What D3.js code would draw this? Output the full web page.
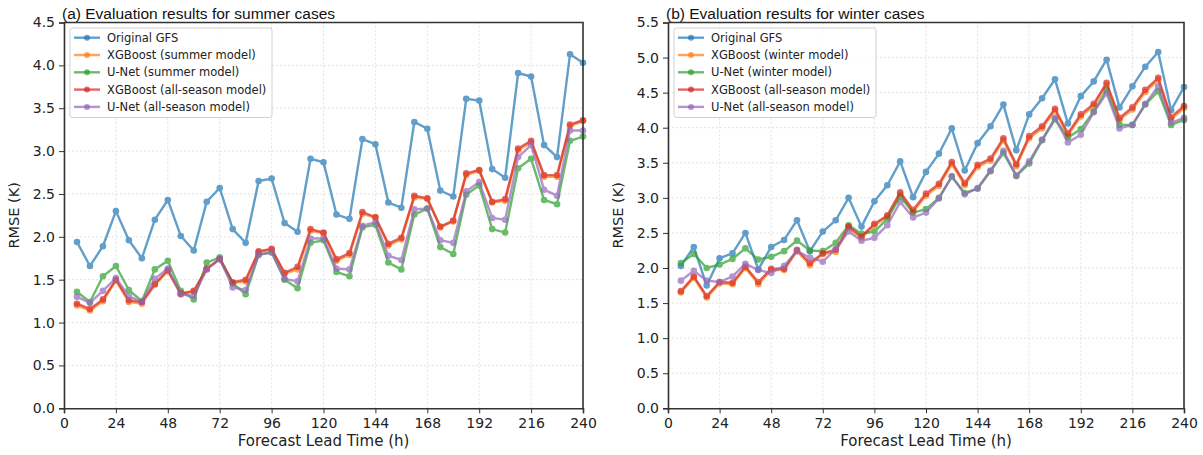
<!DOCTYPE html>
<html>
<head>
<meta charset="utf-8">
<script src="https://cdn.jsdelivr.net/npm/d3@7"></script>
<style>
  body { margin: 0; background: #fff; }
  svg text { font-family: "DejaVu Sans", sans-serif; fill: #222; }
  .title { font-family: "Liberation Sans", Arial, sans-serif; font-size: 15.5px; fill: #111; }
  .axis text { font-size: 14px; }
  .axis path, .axis line { stroke: #333; }
  .grid line { stroke: #e3e3e3; stroke-dasharray: 2,2; }
  .legend text { font-size: 11.5px; }
</style>
</head>
<body>
<div id="chart"></div>
<script>
// lead times (h)
var leadTimes = [6, 12, 18, 24, 30, 36, 42, 48, 54, 60, 66, 72, 78, 84, 90, 96, 102, 108, 114, 120,
  126, 132, 138, 144, 150, 156, 162, 168, 174, 180, 186, 192, 198, 204, 210, 216, 222, 228, 234, 240];
var xTicks = [0, 24, 48, 72, 96, 120, 144, 168, 192, 216, 240];

// (a) summer cases, RMSE (K)
var summerGFS = [1.94, 1.66, 1.89, 2.30, 1.96, 1.75, 2.20, 2.43, 2.01, 1.84, 2.41, 2.57, 2.09, 1.93, 2.65, 2.68, 2.16, 2.06, 2.91, 2.87,
  2.26, 2.21, 3.14, 3.08, 2.40, 2.34, 3.34, 3.26, 2.54, 2.47, 3.61, 3.59, 2.79, 2.69, 3.91, 3.87, 3.07, 2.93, 4.13, 4.03];
var summerXgbSeason = [1.20, 1.14, 1.25, 1.49, 1.24, 1.22, 1.44, 1.60, 1.33, 1.36, 1.62, 1.74, 1.46, 1.48, 1.82, 1.85, 1.57, 1.62, 2.07, 2.04,
  1.72, 1.79, 2.27, 2.22, 1.90, 1.97, 2.46, 2.44, 2.11, 2.18, 2.72, 2.77, 2.40, 2.42, 3.01, 3.10, 2.70, 2.70, 3.29, 3.35];
var summerUnetSeason = [1.36, 1.24, 1.54, 1.66, 1.38, 1.25, 1.62, 1.72, 1.37, 1.27, 1.70, 1.76, 1.46, 1.33, 1.79, 1.82, 1.50, 1.40, 1.93, 1.96,
  1.59, 1.54, 2.11, 2.14, 1.70, 1.62, 2.26, 2.33, 1.88, 1.80, 2.49, 2.60, 2.09, 2.05, 2.80, 2.91, 2.43, 2.38, 3.12, 3.17];
var summerXgbAll = [1.22, 1.16, 1.27, 1.50, 1.26, 1.24, 1.45, 1.61, 1.34, 1.37, 1.63, 1.74, 1.47, 1.50, 1.83, 1.86, 1.58, 1.65, 2.09, 2.05,
  1.74, 1.81, 2.29, 2.23, 1.92, 1.99, 2.48, 2.45, 2.12, 2.19, 2.74, 2.78, 2.41, 2.44, 3.03, 3.12, 2.72, 2.72, 3.31, 3.36];
var summerUnetAll = [1.30, 1.23, 1.37, 1.52, 1.31, 1.24, 1.51, 1.63, 1.33, 1.31, 1.62, 1.74, 1.41, 1.38, 1.79, 1.82, 1.51, 1.48, 1.98, 1.98,
  1.63, 1.62, 2.13, 2.17, 1.78, 1.73, 2.32, 2.33, 1.96, 1.93, 2.53, 2.64, 2.22, 2.20, 2.93, 3.07, 2.55, 2.48, 3.24, 3.24];

// (b) winter cases, RMSE (K)
var winterGFS = [2.03, 2.30, 1.75, 2.14, 2.21, 2.50, 1.98, 2.30, 2.40, 2.68, 2.24, 2.52, 2.68, 3.00, 2.59, 2.95, 3.18, 3.52, 3.01, 3.37,
  3.63, 3.99, 3.39, 3.78, 4.02, 4.33, 3.68, 4.19, 4.42, 4.69, 4.06, 4.45, 4.66, 4.97, 4.29, 4.59, 4.87, 5.08, 4.25, 4.58];
var winterXgbSeason = [1.65, 1.86, 1.58, 1.78, 1.77, 2.00, 1.77, 1.97, 1.97, 2.24, 2.04, 2.20, 2.23, 2.57, 2.43, 2.61, 2.73, 3.05, 2.80, 3.03,
  3.17, 3.48, 3.18, 3.44, 3.53, 3.82, 3.45, 3.85, 3.99, 4.24, 3.89, 4.16, 4.31, 4.61, 4.11, 4.26, 4.51, 4.68, 4.12, 4.28];
var winterUnetSeason = [2.07, 2.20, 2.00, 2.05, 2.13, 2.28, 2.12, 2.16, 2.24, 2.39, 2.25, 2.24, 2.36, 2.61, 2.49, 2.52, 2.70, 3.02, 2.79, 2.84,
  3.00, 3.30, 3.07, 3.13, 3.38, 3.64, 3.31, 3.49, 3.82, 4.12, 3.86, 3.98, 4.23, 4.54, 4.04, 4.04, 4.33, 4.52, 4.04, 4.11];
var winterXgbAll = [1.67, 1.88, 1.60, 1.80, 1.79, 2.02, 1.80, 1.99, 1.99, 2.26, 2.07, 2.21, 2.26, 2.59, 2.45, 2.63, 2.75, 3.08, 2.83, 3.06,
  3.20, 3.51, 3.21, 3.47, 3.56, 3.85, 3.48, 3.88, 4.02, 4.27, 3.92, 4.19, 4.34, 4.64, 4.14, 4.29, 4.54, 4.71, 4.15, 4.31];
var winterUnetAll = [1.82, 1.96, 1.82, 1.80, 1.88, 2.06, 1.97, 1.93, 2.03, 2.24, 2.15, 2.09, 2.27, 2.52, 2.39, 2.43, 2.61, 2.94, 2.72, 2.79,
  2.99, 3.31, 3.05, 3.14, 3.39, 3.67, 3.32, 3.52, 3.83, 4.14, 3.79, 3.90, 4.22, 4.49, 3.99, 4.04, 4.34, 4.59, 4.07, 4.14];

var summerLabels = ["Original GFS", "XGBoost (summer model)", "U-Net (summer model)", "XGBoost (all-season model)", "U-Net (all-season model)"];
var winterLabels = ["Original GFS", "XGBoost (winter model)", "U-Net (winter model)", "XGBoost (all-season model)", "U-Net (all-season model)"];
var colors = ["#1f77b4", "#ff7f0e", "#2ca02c", "#d62728", "#9467bd"];

var svg = d3.select("#chart").append("svg")
  .attr("width", 1203)
  .attr("height", 455);

function drawPanel(opts) {
  var x = d3.scaleLinear().domain([0, 240]).range([opts.left, opts.right]);
  var y = d3.scaleLinear().domain([0, opts.yMax]).range([408.3, 22.5]);
  var yTicks = d3.range(0, opts.yMax + 0.01, 0.5);

  var g = svg.append("g");

  // grid
  var grid = g.append("g").attr("class", "grid");
  grid.selectAll(".gx").data(xTicks).enter().append("line")
    .attr("x1", function(d) { return x(d); }).attr("x2", function(d) { return x(d); })
    .attr("y1", y(0)).attr("y2", y(opts.yMax));
  grid.selectAll(".gy").data(yTicks).enter().append("line")
    .attr("x1", x(0)).attr("x2", x(240))
    .attr("y1", function(d) { return y(d); }).attr("y2", function(d) { return y(d); });

  // lines + markers
  var line = d3.line()
    .x(function(d, i) { return x(leadTimes[i]); })
    .y(function(d) { return y(d); });

  opts.series.forEach(function(s, k) {
    var sg = g.append("g").attr("opacity", 0.7);
    sg.append("path")
      .datum(s)
      .attr("fill", "none")
      .attr("stroke", colors[k])
      .attr("stroke-width", 2.4)
      .attr("d", line);
    sg.selectAll("circle").data(s).enter().append("circle")
      .attr("cx", function(d, i) { return x(leadTimes[i]); })
      .attr("cy", function(d) { return y(d); })
      .attr("r", 3.3)
      .attr("fill", colors[k]);
  });

  // axes
  g.append("g")
    .attr("class", "axis")
    .attr("transform", "translate(0," + y(0) + ")")
    .call(d3.axisBottom(x).tickValues(xTicks).tickSize(5).tickPadding(5).tickFormat(d3.format("d")))
    .call(function(a) { a.select(".domain").attr("stroke-width", 1.6); });

  g.append("g")
    .attr("class", "axis")
    .attr("transform", "translate(" + x(0) + ",0)")
    .call(d3.axisLeft(y).tickValues(yTicks).tickSize(5).tickPadding(4).tickFormat(d3.format(".1f")))
    .call(function(a) { a.select(".domain").attr("stroke-width", 1.6); });

  // top + right spines
  g.append("path")
    .attr("d", "M" + x(0) + "," + y(opts.yMax) + "H" + x(240) + "V" + y(0))
    .attr("fill", "none")
    .attr("stroke", "#333")
    .attr("stroke-width", 1.6);

  // titles
  g.append("text")
    .attr("class", "title")
    .attr("x", opts.left - 2)
    .attr("y", 19)
    .text(opts.title);

  g.append("text")
    .attr("x", (opts.left + opts.right) / 2)
    .attr("y", 446)
    .attr("text-anchor", "middle")
    .style("font-size", "15px")
    .text("Forecast Lead Time (h)");

  g.append("text")
    .attr("transform", "translate(" + (opts.left - 45) + "," + ((22.5 + 408.3) / 2) + ") rotate(-90)")
    .attr("text-anchor", "middle")
    .style("font-size", "14.5px")
    .text("RMSE (K)");

  // legend
  var lg = g.append("g").attr("class", "legend")
    .attr("transform", "translate(" + (opts.left + 6) + ",28)");
  lg.append("rect")
    .attr("width", 202).attr("height", 89.5)
    .attr("rx", 2.5)
    .attr("fill", "#fff").attr("fill-opacity", 0.85)
    .attr("stroke", "#d0d0d0");
  opts.labels.forEach(function(lbl, k) {
    var row = lg.append("g").attr("transform", "translate(0," + (9.7 + k * 17.3) + ")");
    row.append("line")
      .attr("x1", 4).attr("x2", 30)
      .attr("stroke", colors[k]).attr("stroke-width", 2.4).attr("opacity", 0.7);
    row.append("circle")
      .attr("cx", 17).attr("r", 3).attr("fill", colors[k]).attr("opacity", 0.7);
    row.append("text")
      .attr("x", 37).attr("dy", "0.35em")
      .text(lbl);
  });
}

drawPanel({
  left: 64, right: 583, yMax: 4.5,
  title: "(a) Evaluation results for summer cases",
  labels: summerLabels,
  series: [summerGFS, summerXgbSeason, summerUnetSeason, summerXgbAll, summerUnetAll]
});

drawPanel({
  left: 668, right: 1184, yMax: 5.5,
  title: "(b) Evaluation results for winter cases",
  labels: winterLabels,
  series: [winterGFS, winterXgbSeason, winterUnetSeason, winterXgbAll, winterUnetAll]
});
</script>
</body>
</html>
